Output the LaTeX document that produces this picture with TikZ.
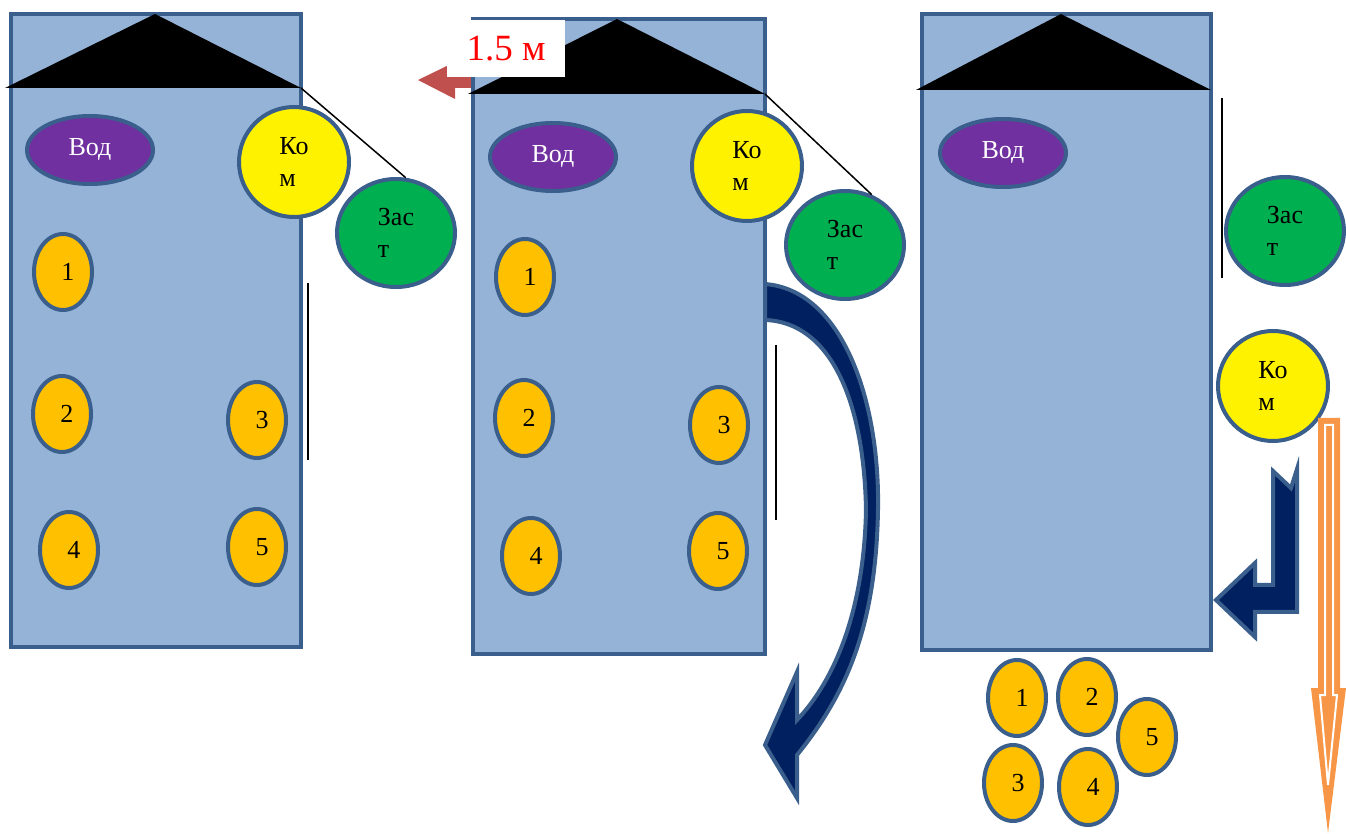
\documentclass[tikz,border=0pt]{standalone}
\usepackage{fontspec}
\setmainfont{Liberation Serif}
\usetikzlibrary{shapes.geometric}
\definecolor{boxblue}{HTML}{95B3D7}
\definecolor{edgeblue}{HTML}{3A5F8C}
\definecolor{vodpurple}{HTML}{7030A0}
\definecolor{zastgreen}{HTML}{00B050}
\definecolor{seatorange}{HTML}{FFC000}
\definecolor{navyfill}{HTML}{002060}
\definecolor{arrowred}{HTML}{C0504D}
\definecolor{arroworange}{HTML}{F79646}

\begin{document}
\begin{tikzpicture}[x=0.5pt, y=-0.5pt,
    bus/.style={draw=edgeblue, fill=boxblue, line width=2pt},
    roof/.style={fill=black},
    vod/.style={ellipse, draw=edgeblue, fill=vodpurple, line width=2pt, minimum width=63pt, minimum height=34pt, inner sep=0pt, text=white, font=\fontsize{13}{16}\selectfont},
    kom/.style={circle, draw=edgeblue, fill=yellow, line width=2pt, minimum size=55pt, inner sep=0pt, align=left, font=\fontsize{13}{16}\selectfont},
    zast/.style={ellipse, draw=edgeblue, fill=zastgreen, line width=2pt, minimum width=59pt, minimum height=54pt, inner sep=0pt, align=left, font=\fontsize{13}{16}\selectfont},
    seat/.style={ellipse, draw=edgeblue, fill=seatorange, line width=2pt, minimum width=29pt, minimum height=38pt, inner sep=0pt, font=\fontsize{13}{16}\selectfont, execute at begin node={\hspace*{5pt}}},
    rope/.style={black, line width=0.75pt},
    bigarrow/.style={draw=edgeblue, fill=navyfill, line width=2pt, line join=miter}
]
\useasboundingbox (0,0) rectangle (1346,834);

% first bus
\draw[bus] (11,14) rectangle (301,647);
\fill[roof] (5,88) -- (155,14) -- (301,88) -- cycle;
\coordinate (r1) at (301,88);
\node[vod] (vod1) at (90,150) {Вод};
\node[kom] (kom1) at (294,162) {Ко\\м};
\node[zast] (zast1) at (396,233) {Зас\\т};
\draw[rope] (r1) -- (zast1.80);
\draw[rope] (308,283) -- (308,460);
\node[seat] (s11) at (63,272) {1};
\node[seat] (s12) at (62,414) {2};
\node[seat] (s13) at (257,420) {3};
\node[seat] (s14) at (69,550) {4};
\node[seat] (s15) at (257,547) {5};

% second bus
\fill[arrowred] (418,80) -- (455,62) -- (455,72) -- (473,72) -- (473,88) -- (455,88) -- (455,99) -- cycle;
\draw[bus] (473,19) rectangle (765,654);
\fill[roof] (468,94) -- (617,19) -- (765,94) -- cycle;
\coordinate (r2) at (765,94);
\node[fill=white, minimum width=59pt, minimum height=28.5pt, inner sep=0pt, text=red, font=\fontsize{18.5}{21}\selectfont] (dist) at (506,48.5) {1.5 м};
\node[vod] (vod2) at (553,157) {Вод};
\node[kom] (kom2) at (747,166) {Ко\\м};
\node[zast] (zast2) at (845,245) {Зас\\т};
\draw[rope] (r2) -- (zast2.62);
\draw[rope] (776,345) -- (776,520);
\node[seat] (s21) at (525,277) {1};
\node[seat] (s22) at (524,418) {2};
\node[seat] (s23) at (719,425) {3};
\node[seat] (s24) at (531,556) {4};
\node[seat] (s25) at (718,551) {5};
\draw[bigarrow] (765,284) .. controls (842,290) and (880,400) .. (878,510)
    .. controls (876,620) and (850,690) .. (797,755)
    -- (797,798) -- (765,745) -- (797,672) -- (797,720)
    .. controls (835,680) and (864,610) .. (866,510)
    .. controls (864,400) and (830,322) .. (765,320) -- cycle;

% third bus
\draw[bus] (922,14) rectangle (1211,650);
\fill[roof] (916,90) -- (1061,14) -- (1211,90) -- cycle;
\node[vod] (vod3) at (1003,153) {Вод};
\node[zast] (zast3) at (1285,231) {Зас\\т};
\draw[rope] (1222,98) -- (1222,278);
\node[kom] (kom3) at (1273,386) {Ко\\м};
\draw[bigarrow] (1273,471) -- (1291,488) -- (1297,469) -- (1297,612) -- (1255,612)
    -- (1255,637) -- (1216,600) -- (1255,563) -- (1255,585) -- (1273,585) -- cycle;
\fill[arroworange] (1318,418) -- (1340,418) -- (1340,688) -- (1346,688) -- (1328,833)
    -- (1311,688) -- (1318,688) -- cycle;
\draw[white, line width=1pt, line join=miter] (1325,425) -- (1333,425) -- (1333,695)
    -- (1337,695) -- (1328,785) -- (1320,695) -- (1325,695) -- cycle;
\node[seat] (s31) at (1017,698) {1};
\node[seat] (s32) at (1087,697) {2};
\node[seat] (s35) at (1147,737) {5};
\node[seat] (s33) at (1013,783) {3};
\node[seat] (s34) at (1088,787) {4};
\end{tikzpicture}
\end{document}
